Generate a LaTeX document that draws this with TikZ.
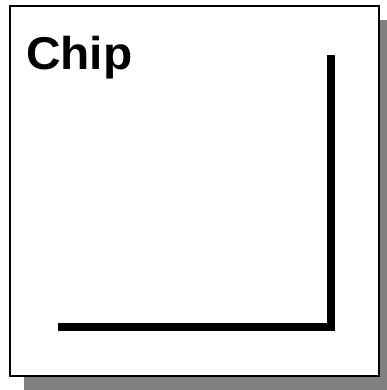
\documentclass[tikz,border=0pt]{standalone}
\usepackage{fontspec}
\setmainfont{Liberation Sans}
\usetikzlibrary{shadows,positioning}
\definecolor{shade}{HTML}{808080}
\tikzset{chipbox/.style={draw,line width=2.5pt,fill=white,minimum width=369pt,minimum height=370pt,inner sep=0pt,drop shadow={shadow xshift=14pt,shadow yshift=-14pt,fill=shade,opacity=1}},title/.style={font=\fontsize{46}{50}\selectfont\bfseries,inner sep=0pt,anchor=base west,xscale=1.04},wire/.style={line width=8pt,line join=miter}}

\begin{document}
\begin{tikzpicture}[x=1pt,y=-1pt]
\useasboundingbox (0,0) rectangle (387,390);
\node[chipbox] (chip) at (194.5,191) {};
\node[title] (name) at (26,70) {Chip};
\coordinate (top) at (331,55);
\coordinate (corner) at (331,327);
\coordinate (left) at (58,327);
\draw[wire] (left) -- (corner) -- (top);
\end{tikzpicture}
\end{document}
